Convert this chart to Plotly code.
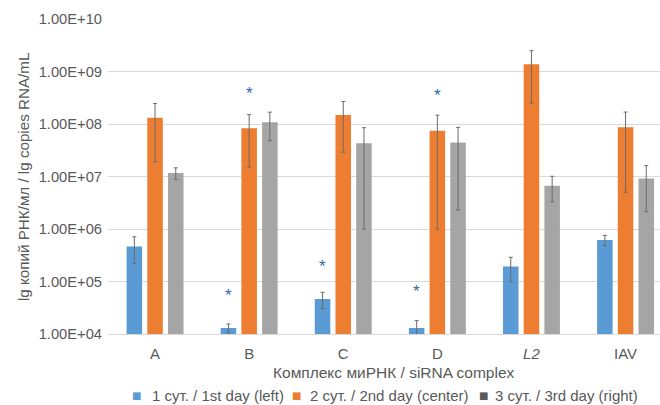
import math
import plotly.graph_objects as go

# ---- data ----
categories = ["A", "B", "C", "D", "<i>L2</i>", "IAV"]
series_names = ["1 сут. / 1st day (left)", "2 сут. / 2nd day (center)", "3 сут. / 3rd day (right)"]
day1 = [4.64e5, 1.30e4, 4.64e4, 1.30e4, 1.94e5, 6.2e5]
day1_err = [2.45e5, 2.5e3, 1.6e4, 5.0e3, 9.5e4, 1.35e5]
day2 = [1.32e8, 8.3e7, 1.49e8, 7.4e7, 1.37e9, 8.7e7]
day2_err = [1.13e8, 6.8e7, 1.2e8, 7.3e7, 1.12e9, 8.2e7]
day3 = [1.17e7, 1.08e8, 4.3e7, 4.43e7, 6.7e6, 9.14e6]
day3_err = [2.9e6, 6.0e7, 4.2e7, 4.2e7, 3.4e6, 7.0e6]
y_tickvals = [1e4, 1e5, 1e6, 1e7, 1e8, 1e9, 1e10]
y_ticktext = ["1.00E+04", "1.00E+05", "1.00E+06", "1.00E+07", "1.00E+08", "1.00E+09", "1.00E+10"]
# significance asterisks: (category index, series index, y position)
star_cat = [1, 1, 2, 3, 3]
star_series = [0, 1, 0, 0, 1]
star_y = [6.47e4, 4.46e8, 2.34e5, 7.7e4, 4.14e8]

bar_colors = ["#5B9BD5", "#ED7D31", "#A5A5A5"]
legend_colors = ["#5B9BD5", "#ED7D31", "#595959"]
text_color = "#595959"
FONT = "Liberation Sans, Arial, sans-serif"

W, H = 660, 405
ML, MR, MT, MB = 108, 0, 19, 71
plot_w = W - ML - MR
plot_h = H - MT - MB
x_range = [-0.5, 5.366]
bargap = 0.34

def px_to_paper(px, py):
    return (px - ML) / plot_w, (H - MB - py) / plot_h

fig = go.Figure()
values = [day1, day2, day3]
errors = [day1_err, day2_err, day3_err]
for i in range(3):
    fig.add_trace(go.Bar(
        x=categories, y=values[i], name=series_names[i],
        marker=dict(color=bar_colors[i], line=dict(width=0)),
        error_y=dict(type="data", array=errors[i], visible=True,
                     color="#6b6b6b", thickness=1, width=2),
        showlegend=False,
    ))

# asterisks
px_per_unit = plot_w / (x_range[1] - x_range[0])
slot_px = px_per_unit * (1 - bargap) / 3
annotations = []
for c, s, yv in zip(star_cat, star_series, star_y):
    annotations.append(dict(
        x=categories[c], y=math.log10(yv), xref="x", yref="y",
        text="*", showarrow=False, xshift=(s - 1) * slot_px, yshift=-4,
        font=dict(family=FONT, size=17, color="#2E6BA8"),
    ))

ax, ay = px_to_paper(23, 177)
annotations.append(dict(
    x=ax, y=ay, xref="paper", yref="paper", text="lg копий РНК/мл / lg copies RNA/mL",
    textangle=-90, showarrow=False, xanchor="center", yanchor="middle",
    font=dict(family=FONT, size=15.2, color=text_color),
))
tx, ty = px_to_paper(394, 372)
annotations.append(dict(
    x=tx, y=ty, xref="paper", yref="paper", text="Комплекс миРНК / siRNA complex",
    showarrow=False, xanchor="center", yanchor="middle",
    font=dict(family=FONT, size=15.5, color=text_color),
))

# legend (compact, as in the reference)
legend_square_x = [136.5, 296.5, 483.5]
legend_text_x = [150, 308, 493]
legend_y = 395
for i in range(3):
    sx, sy = px_to_paper(legend_square_x[i], legend_y)
    annotations.append(dict(
        x=sx, y=sy, xref="paper", yref="paper", text="■", showarrow=False,
        xanchor="center", yanchor="middle", yshift=0,
        font=dict(family="DejaVu Sans", size=10, color=legend_colors[i]),
    ))
    lx, ly = px_to_paper(legend_text_x[i], legend_y)
    annotations.append(dict(
        x=lx, y=ly, xref="paper", yref="paper", text=series_names[i], showarrow=False,
        xanchor="left", yanchor="middle",
        font=dict(family=FONT, size=15, color=text_color),
    ))

fig.update_layout(
    width=W, height=H,
    margin=dict(l=ML, r=MR, t=MT, b=MB, pad=0, autoexpand=False),
    paper_bgcolor="white", plot_bgcolor="white",
    barmode="group", bargap=bargap, bargroupgap=0.25,
    font=dict(family=FONT, size=14, color=text_color),
    xaxis=dict(type="category", range=x_range, showgrid=False, showline=True,
               linecolor="#D9D9D9", linewidth=1, ticks="", ticklabelstandoff=6,
               automargin=False,
               tickfont=dict(size=15, color=text_color)),
    yaxis=dict(type="log", range=[4, 10], tickvals=y_tickvals, ticktext=y_ticktext,
               showgrid=True, gridcolor="#D9D9D9", gridwidth=1, zeroline=False,
               showline=False, ticks="", ticklabelstandoff=5, automargin=False,
               tickfont=dict(size=14.7, color=text_color)),
    annotations=annotations,
    showlegend=False,
)

fig.write_html("out.html")
